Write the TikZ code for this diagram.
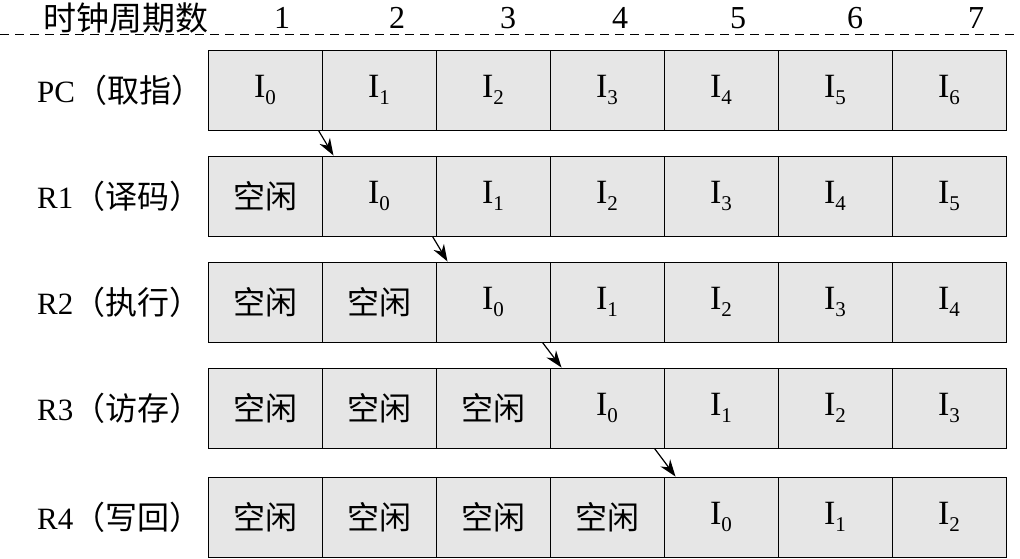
\documentclass[tikz,border=0pt]{standalone}
\usepackage{fontspec}
\setmainfont{Liberation Serif}
\newfontfamily\cjk{Noto Sans CJK SC}
\usepackage{tikz}
\usetikzlibrary{positioning, arrows.meta}
\definecolor{CellColor}{RGB}{230,230,230}
\newcommand{\instr}[1]{I\raisebox{-7pt}{\fontsize{21}{21}\selectfont #1}}
\newcommand{\idle}{{\cjk\fontsize{32}{36}\selectfont 空闲}}
\tikzstyle{cell} = [rectangle, draw, line width=1pt, fill=CellColor, minimum width=114pt, minimum height=80pt, inner sep=0pt, font=\fontsize{34}{36}\selectfont]
\tikzstyle{stage} = [anchor=west, inner sep=0pt, font=\fontsize{31}{36}\selectfont]
\tikzstyle{tick} = [inner sep=0pt, font=\fontsize{32}{36}\selectfont]
\tikzstyle{arrow} = [line width=1.2pt, -{Stealth[length=17pt,width=12pt]}]

\begin{document}
\begin{tikzpicture}[x=1pt, y=-1pt]
                \useasboundingbox (0,0) rectangle (1020,558);
                % Header with clock cycles
                \node[tick] (title) at (126,18) {\cjk\fontsize{33}{36}\selectfont 时钟周期数};
                \node[tick] (t1) at (282,18) {1};
                \node[tick] (t2) at (397,18) {2};
                \node[tick] (t3) at (508,18) {3};
                \node[tick] (t4) at (620,18) {4};
                \node[tick] (t5) at (738,18) {5};
                \node[tick] (t6) at (855,18) {6};
                \node[tick] (t7) at (976,18) {7};
                \coordinate (dl) at (0,34);
                \coordinate (dr) at (1020,34);
                \draw[line width=1pt, dash pattern=on 9pt off 6pt] (dl) -- (dr);
                
                % PC stage
                \node[stage] (pc) at (37,90) {PC{\cjk\fontsize{32}{36}\selectfont （取指）}};
                \node[cell] (pc1) at (265,90) {\instr{0}};
                \node[cell] (pc2) at (379,90) {\instr{1}};
                \node[cell] (pc3) at (493,90) {\instr{2}};
                \node[cell] (pc4) at (607,90) {\instr{3}};
                \node[cell] (pc5) at (721,90) {\instr{4}};
                \node[cell] (pc6) at (835,90) {\instr{5}};
                \node[cell] (pc7) at (949,90) {\instr{6}};
                
                % R1 stage
                \node[stage] (ra) at (37,196) {R1{\cjk\fontsize{32}{36}\selectfont （译码）}};
                \node[cell] (ra1) at (265,196) {\idle};
                \node[cell] (ra2) at (379,196) {\instr{0}};
                \node[cell] (ra3) at (493,196) {\instr{1}};
                \node[cell] (ra4) at (607,196) {\instr{2}};
                \node[cell] (ra5) at (721,196) {\instr{3}};
                \node[cell] (ra6) at (835,196) {\instr{4}};
                \node[cell] (ra7) at (949,196) {\instr{5}};
                
                % R2 stage
                \node[stage] (rb) at (37,302) {R2{\cjk\fontsize{32}{36}\selectfont （执行）}};
                \node[cell] (rb1) at (265,302) {\idle};
                \node[cell] (rb2) at (379,302) {\idle};
                \node[cell] (rb3) at (493,302) {\instr{0}};
                \node[cell] (rb4) at (607,302) {\instr{1}};
                \node[cell] (rb5) at (721,302) {\instr{2}};
                \node[cell] (rb6) at (835,302) {\instr{3}};
                \node[cell] (rb7) at (949,302) {\instr{4}};
                
                % R3 stage
                \node[stage] (rc) at (37,408) {R3{\cjk\fontsize{32}{36}\selectfont （访存）}};
                \node[cell] (rc1) at (265,408) {\idle};
                \node[cell] (rc2) at (379,408) {\idle};
                \node[cell] (rc3) at (493,408) {\idle};
                \node[cell] (rc4) at (607,408) {\instr{0}};
                \node[cell] (rc5) at (721,408) {\instr{1}};
                \node[cell] (rc6) at (835,408) {\instr{2}};
                \node[cell] (rc7) at (949,408) {\instr{3}};
                
                % R4 stage
                \node[stage] (rd) at (37,517) {R4{\cjk\fontsize{32}{36}\selectfont （写回）}};
                \node[cell] (rd1) at (265,517) {\idle};
                \node[cell] (rd2) at (379,517) {\idle};
                \node[cell] (rd3) at (493,517) {\idle};
                \node[cell] (rd4) at (607,517) {\idle};
                \node[cell] (rd5) at (721,517) {\instr{0}};
                \node[cell] (rd6) at (835,517) {\instr{1}};
                \node[cell] (rd7) at (949,517) {\instr{2}};
                
                % I0 moves down the pipeline
                \draw[arrow] ([xshift=-4pt]pc1.south east) -- ([xshift=12pt]ra2.north west);
                \draw[arrow] ([xshift=-4pt]ra2.south east) -- ([xshift=12pt]rb3.north west);
                \draw[arrow] ([xshift=-8pt]rb3.south east) -- ([xshift=12pt]rc4.north west);
                \draw[arrow] ([xshift=-10pt]rc4.south east) -- ([xshift=12pt]rd5.north west);
            \end{tikzpicture}
\end{document}
